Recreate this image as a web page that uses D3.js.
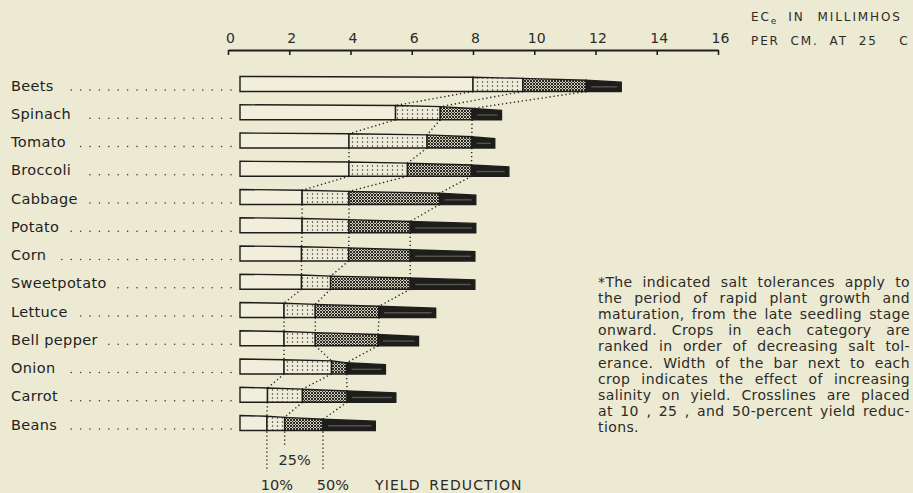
<!DOCTYPE html>
<html>
<head>
<meta charset="utf-8">
<script src="https://cdn.jsdelivr.net/npm/d3@7"></script>
<style>
    html, body { margin: 0; padding: 0; background: #ecead3; }
    svg { display: block; font-family: "DejaVu Sans", sans-serif; fill: #2b2b28; }
</style>
</head>
<body>
<div id="chart"></div>
<script>
// Data (ECe, millimhos per cm at 25 C)
const crops = ['Beets', 'Spinach', 'Tomato', 'Broccoli', 'Cabbage', 'Potato', 'Corn',
    'Sweetpotato', 'Lettuce', 'Bell pepper', 'Onion', 'Carrot', 'Beans'];
const ec10 = [8.0, 5.47, 3.95, 3.95, 2.42, 2.42, 2.4, 2.4, 1.83, 1.83, 1.83, 1.29, 1.27];
const ec25 = [9.63, 6.93, 6.5, 5.86, 3.95, 3.95, 3.94, 3.35, 2.85, 2.85, 3.38, 2.43, 1.85];
const ec50 = [11.7, 7.97, 7.96, 7.95, 6.91, 5.95, 5.95, 5.95, 4.93, 4.9, 3.87, 3.89, 3.1];
const ecEnd = [12.84, 8.93, 8.71, 9.17, 8.09, 8.09, 8.06, 8.06, 6.78, 6.22, 5.14, 5.48, 4.81];
const reductions = [0, 10, 25, 50, 75];   // percent yield reduction at each break
const ticks = [0, 2, 4, 6, 8, 10, 12, 14, 16];
const reductionLabels = ['10%', '25%', '50%'];
const footnote = [
    '*The indicated salt tolerances apply to',
    'the period of rapid plant growth and',
    'maturation, from the late seedling stage',
    'onward. Crops in each category are',
    'ranked in order of decreasing salt tol-',
    'erance. Width of the bar next to each',
    'crop indicates the effect of increasing',
    'salinity on yield. Crosslines are placed',
    'at 10 , 25 , and 50-percent yield reduc-',
    'tions.'
];

const chart = { width: 913, height: 493, barH: 15, inset: 12 };

const rows = crops.map((c, i) => ({
    crop: c,
    breaks: [0, ec10[i], ec25[i], ec50[i], ecEnd[i]]
}));

const svg = d3.select('#chart')
    .append('svg')
    .attr('width', chart.width)
    .attr('height', chart.height);

// Patterns
const defs = svg.append('defs');
const dots = defs.append('pattern')
    .attr('id', 'dots').attr('patternUnits', 'userSpaceOnUse')
    .attr('width', 5).attr('height', 4);
dots.append('rect').attr('width', 5).attr('height', 4).attr('fill', '#eeecd8');
dots.append('circle').attr('cx', 2.5).attr('cy', 2).attr('r', 0.75).attr('fill', '#333');

const hatch = defs.append('pattern')
    .attr('id', 'hatch').attr('patternUnits', 'userSpaceOnUse')
    .attr('width', 3).attr('height', 3);
hatch.append('rect').attr('width', 3).attr('height', 3).attr('fill', '#cfcdb8');
hatch.append('path').attr('d', 'M0,0L3,3M3,0L0,3')
    .attr('stroke', '#2a2a26').attr('stroke-width', 1);

// Scales
const xScale = d3.scaleLinear().domain([0, 16]).range([228, 718]);
const yScale = d3.scalePoint().domain(crops).range([84, 423]);
const hScale = d3.scaleLinear().domain([0, 100]).range([chart.barH, chart.barH * 0.5]);

const bottom = d => yScale(d.crop) + chart.barH / 2;
const xAt = (d, k) => k === 0 ? xScale(0) + chart.inset : xScale(d.breaks[k]);
const topAt = (d, k) => bottom(d) - hScale(reductions[k]);

// Axis (labels above, ticks below)
const xAxis = d3.axisTop(xScale)
    .tickValues(ticks)
    .tickSizeInner(-5)
    .tickSizeOuter(0)
    .tickPadding(7)
    .tickFormat(d3.format('d'));

const axisG = svg.append('g')
    .attr('transform', 'translate(0, 50)')
    .call(xAxis);
axisG.select('.domain').attr('stroke', '#1e1e1c').attr('stroke-width', 2.2);
axisG.selectAll('.tick line').attr('stroke', '#1e1e1c').attr('stroke-width', 1.6);
axisG.selectAll('.tick text')
    .attr('font-family', '"DejaVu Sans", sans-serif')
    .attr('font-size', 14)
    .attr('fill', '#2b2b28')
    .attr('dx', 2);

// Units label
const units = svg.append('g').attr('font-size', 12).attr('fill', '#2b2b28')
    .style('letter-spacing', '1.9px')
    .style('word-spacing', '5px');
const ec = units.append('text').attr('x', 751).attr('y', 21);
ec.append('tspan').text('EC');
ec.append('tspan').attr('font-size', 9).attr('dy', 3).text('e');
ec.append('tspan').attr('dy', -3).attr('dx', 10).text('IN');
ec.append('tspan').attr('dx', 13).text('MILLIMHOS');
units.append('text').attr('x', 751).attr('y', 45)
    .attr('xml:space', 'preserve')
    .text('PER CM. AT 25  C');

// Crop labels with leader dots
const labels = svg.append('g').classed('labels', true);
rows.forEach(d => {
    const t = labels.append('text')
        .attr('x', 11)
        .attr('y', bottom(d) - 1)
        .attr('font-size', 14.5)
        .attr('fill', '#222')
        .style('letter-spacing', '0.35px')
        .text(d.crop);
    const end = 11 + t.node().getComputedTextLength() + 10;
    const dotXs = d3.range(231, end, -9.4);
    labels.selectAll(null)
        .data(dotXs)
        .enter()
        .append('circle')
        .attr('cx', v => v)
        .attr('cy', bottom(d) - 1.5)
        .attr('r', 0.8)
        .attr('fill', '#3a3a36');
});

// Crosslines between neighbouring bars
const cross = svg.append('g')
    .attr('stroke', '#262624')
    .attr('stroke-width', 1.4)
    .attr('stroke-dasharray', '1.3,2.7')
    .attr('fill', 'none');

[1, 2, 3].forEach(k => {
    for (let i = 0; i < rows.length - 1; i++) {
        const a = rows[i], b = rows[i + 1];
        cross.append('line')
            .attr('x1', xAt(a, k)).attr('y1', bottom(a))
            .attr('x2', xAt(b, k)).attr('y2', topAt(b, k));
    }
});

// Bars
const fills = ['#f1efdc', 'url(#dots)', 'url(#hatch)', '#1d1d1b'];
const bars = svg.append('g').classed('bars', true);

rows.forEach(d => {
    const g = bars.append('g');
    [0, 1, 2, 3].forEach(k => {
        const pts = [
            [xAt(d, k), bottom(d)],
            [xAt(d, k), topAt(d, k)],
            [xAt(d, k + 1), topAt(d, k + 1)],
            [xAt(d, k + 1), bottom(d)]
        ];
        g.append('path')
            .attr('d', d3.line()(pts) + 'Z')
            .attr('fill', fills[k])
            .attr('stroke', '#1d1d1b')
            .attr('stroke-width', 1.4)
            .attr('stroke-linejoin', 'miter');
    });
    // grey sheen inside the black part
    const yMid = bottom(d) - hScale(reductions[4]) / 2;
    g.append('line')
        .attr('x1', xAt(d, 3) + 5).attr('x2', xAt(d, 4) - 4)
        .attr('y1', yMid).attr('y2', yMid)
        .attr('stroke', '#55534a')
        .attr('stroke-width', 1.4);
});

// Reduction guides under the last bar
const last = rows[rows.length - 1];
const guideEnds = [470, 447, 470];
const labelYs = [490, 465, 490];
[1, 2, 3].forEach((k, j) => {
    cross.append('line')
        .attr('x1', xAt(last, k)).attr('y1', bottom(last) + 1)
        .attr('x2', xAt(last, k)).attr('y2', guideEnds[j]);
    svg.append('text')
        .attr('x', xAt(last, k) + 10)
        .attr('y', labelYs[j])
        .attr('text-anchor', 'middle')
        .attr('font-size', 14.5)
        .text(reductionLabels[j]);
});
svg.append('text')
    .attr('x', 375)
    .attr('y', 490)
    .attr('font-size', 14)
    .style('letter-spacing', '1.1px')
    .style('word-spacing', '3px')
    .text('YIELD REDUCTION');

// Footnote, justified
const note = svg.append('g')
    .attr('font-size', 14)
    .style('letter-spacing', '0.4px');
const noteX = 598, noteW = 312, noteY = 287, lineH = 16.1;

footnote.forEach((line, i) => {
    const words = line.split(' ');
    const texts = words.map(w => note.append('text')
        .attr('y', noteY + i * lineH)
        .text(w));
    const lens = texts.map(t => t.node().getComputedTextLength());
    const total = d3.sum(lens);
    const isLast = i === footnote.length - 1;
    const gap = isLast || words.length < 2 ? 5 : (noteW - total) / (words.length - 1);
    let cx = noteX;
    texts.forEach((t, j) => {
        t.attr('x', cx);
        cx += lens[j] + gap;
    });
});
</script>
</body>
</html>
